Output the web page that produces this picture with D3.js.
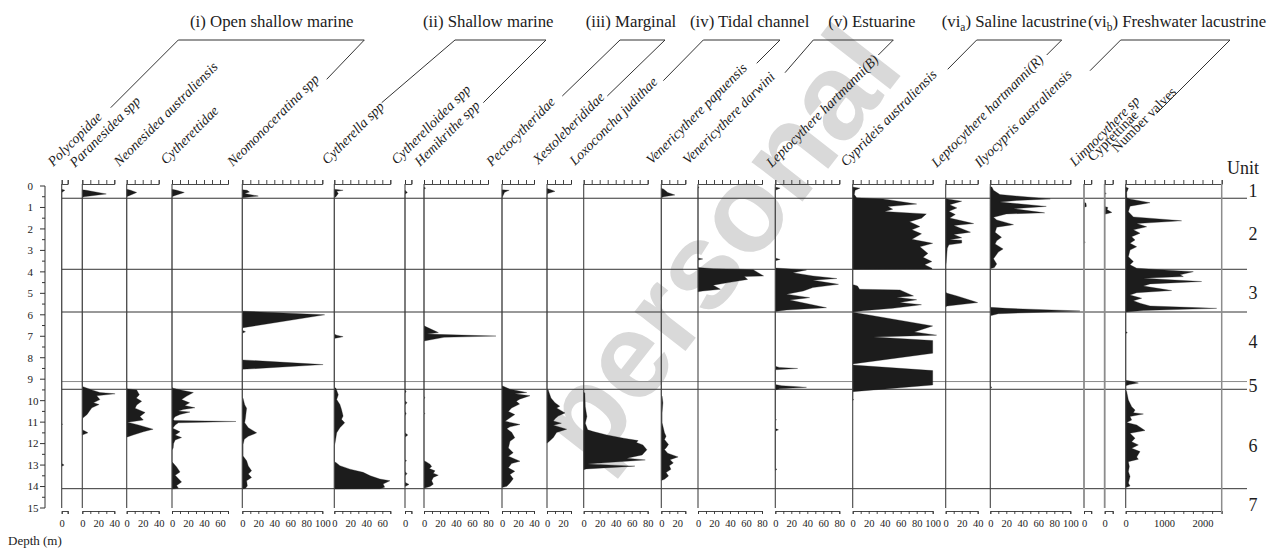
<!DOCTYPE html>
<html>
<head>
<meta charset="utf-8">
<script src="https://cdn.jsdelivr.net/npm/d3@7"></script>
<style>
  body { margin: 0; background: #fff; }
  svg { display: block; font-family: "Liberation Serif", "Times New Roman", serif; }
</style>
</head>
<body>
<svg id="chart" width="1288" height="551"></svg>
<script>
// ---- data: [depth (m), value] per taxon ----
const polycopidae = [[0.15,0],[0.2,4],[0.3,0],[11.05,0],[11.1,1],[11.15,0],[12.93,0],[13.0,3],[13.06,0]];
const paranesidea = [[0.18,0],[0.2,5],[0.37,30],[0.5,2],[0.55,0],[9.32,0],[9.35,1],[9.5,12],[9.62,22],[9.68,41],[9.77,18],[9.95,22],[10.1,14],[10.18,21],[10.33,12],[10.48,9],[10.64,6],[10.8,1],[10.85,0],[11.35,0],[11.45,5],[11.5,7],[11.6,0]];
const neonesidea = [[0.15,0],[0.2,5],[0.3,12.5],[0.45,3],[0.5,0],[9.45,0],[9.5,12.5],[9.72,15.8],[9.88,12],[10.03,18.7],[10.2,12.5],[10.35,10.5],[10.55,23],[10.74,16.6],[10.9,20.8],[10.97,8],[11.0,1],[11.13,14.6],[11.33,33],[11.45,20.8],[11.6,8],[11.7,0]];
const cytherettidae = [[0.15,0],[0.2,6],[0.3,15.4],[0.45,3],[0.5,0],[9.38,0],[9.42,1.5],[9.53,14],[9.62,26.7],[9.8,18],[9.95,12],[10.1,22],[10.23,16],[10.33,28.7],[10.41,14],[10.48,8],[10.53,22.5],[10.64,10],[10.75,3.7],[10.86,1.7],[10.92,3],[10.97,80],[11.03,8],[11.13,4],[11.28,1],[11.45,10],[11.6,4],[11.72,12],[11.83,4],[12.0,2],[12.2,1.5],[12.3,0],[12.85,0],[12.93,2],[13.09,5.8],[13.32,10],[13.48,4],[13.79,12],[13.95,5.8],[14.08,8],[14.12,0]];
const neomonoceratina = [[0.17,0],[0.2,6],[0.28,9],[0.35,3],[0.47,20],[0.55,0],[5.83,0],[6.0,103],[6.6,1],[6.65,0],[6.72,0],[6.79,4],[6.86,0],[8.1,0],[8.32,101],[8.54,0],[9.85,0],[9.9,1],[10.19,3],[10.35,5.4],[10.6,4.6],[10.8,4],[11.03,3],[11.26,7.5],[11.5,18],[11.66,7.5],[11.8,2.5],[12.04,1],[12.58,1],[12.8,5.4],[13.04,7.5],[13.27,11.6],[13.42,7.5],[13.58,11.6],[13.73,5.4],[13.97,6.3],[14.08,4],[14.12,0]];
const cytherella = [[0.15,0],[0.2,11],[0.25,3],[0.35,5],[0.5,2],[0.55,0],[6.9,0],[6.95,3],[7.02,11],[7.1,0],[9.38,0],[9.42,2],[9.72,5],[9.95,3],[10.18,7],[10.41,9],[10.72,11],[10.87,9],[11.03,13],[11.26,7],[11.5,3],[11.96,1],[12.1,0],[12.85,0],[12.88,2],[13.03,7],[13.19,19.6],[13.34,36],[13.5,45],[13.65,57],[13.73,69.6],[13.88,61],[14.03,63],[14.1,57],[14.12,0]];
const cytherelloidea = [[0.2,0],[0.3,3],[0.38,0],[9.5,0],[9.57,1.5],[9.65,0],[10.0,0],[10.1,2.5],[10.2,0],[10.5,0],[10.6,1.5],[10.7,0],[11.5,0],[11.6,3.5],[11.7,0],[12.75,0],[12.8,2],[12.85,0],[13.3,0],[13.4,2.5],[13.5,0],[13.8,0],[13.9,5],[14.0,0]];
const hemikrithe = [[0.05,0],[0.1,2],[0.15,0],[6.5,0],[6.55,2],[6.83,18],[6.9,4],[6.99,90],[7.05,25],[7.22,0],[9.8,0],[9.86,1],[9.92,0],[10.55,0],[10.6,1],[10.65,0],[12.8,0],[12.84,2.5],[12.96,7.5],[13.07,9.6],[13.16,6.7],[13.27,13.75],[13.38,11.6],[13.47,17.9],[13.58,11.6],[13.73,9.6],[13.89,11.6],[14.0,7.5],[14.08,0]];
const pectocytheridae = [[0.18,0],[0.2,9],[0.25,6],[0.3,3],[0.4,2],[0.55,0],[9.3,0],[9.32,1],[9.47,10],[9.62,31],[9.68,16],[9.77,35],[9.93,22],[10.03,18],[10.16,22],[10.34,12],[10.5,8],[10.65,16],[10.8,10],[10.96,4],[11.11,22.5],[11.22,10],[11.31,6],[11.47,12],[11.73,16],[11.89,10],[12.2,8],[12.43,14],[12.59,8],[12.82,22.5],[12.93,12],[13.13,8],[13.29,16],[13.44,10],[13.64,14],[13.83,10],[13.99,6],[14.05,0]];
const xestoleberididae = [[0.12,0],[0.15,3],[0.25,10],[0.35,1],[0.4,0],[9.45,0],[9.5,1.5],[9.88,5],[10.1,10],[10.26,16],[10.34,12],[10.57,22.5],[10.72,14],[10.84,10],[10.95,8],[11.05,18],[11.14,8],[11.33,24.6],[11.48,12],[11.71,8],[11.86,4],[11.98,0]];
const loxoconcha = [[9.6,0],[9.66,1.5],[10.28,2],[10.74,4],[11.05,2],[11.36,5],[11.44,12],[11.6,29],[11.75,50],[11.86,68],[11.95,66],[12.06,74],[12.29,79],[12.53,73],[12.68,54],[12.76,77],[12.88,30],[12.95,5],[13.05,64],[13.18,3],[13.22,0]];
const venPapuensis = [[0.1,0],[0.15,3],[0.3,8],[0.42,17],[0.5,3],[0.55,0],[9.75,0],[9.8,1],[10.1,2],[10.57,1],[11.03,1],[11.5,4],[11.66,6],[11.81,4],[12.04,9],[12.2,6],[12.28,4],[12.45,8],[12.62,21],[12.75,11],[12.9,15],[13.03,10],[13.2,12],[13.35,6],[13.51,9],[13.66,4],[13.72,0]];
const venDarwini = [[0.03,0],[0.06,1.5],[0.1,0],[3.35,0],[3.4,6],[3.45,0],[3.8,0],[3.85,19],[3.88,52],[3.9,69],[4.19,82],[4.22,58],[4.35,62],[4.5,38],[4.62,19],[4.81,28],[4.89,6],[4.93,0]];
const leptoB = [[0.05,0],[0.1,6],[0.2,0],[3.35,0],[3.42,6],[3.48,0],[3.82,0],[3.91,39],[4.04,22],[4.19,47],[4.31,77],[4.39,47],[4.58,79],[4.73,47],[4.89,35],[5.04,14],[5.2,43],[5.31,18],[5.67,64],[5.78,14],[5.85,0],[8.4,0],[8.45,5],[8.5,28],[8.56,0],[9.25,0],[9.3,8],[9.38,39],[9.45,5],[9.5,0],[10.85,0],[10.89,1.5],[10.93,0],[11.3,0],[11.36,4],[11.42,0],[13.15,0],[13.2,2],[13.25,0]];
const cyprideis = [[0.05,0],[0.1,9],[0.2,3],[0.4,2],[0.55,5],[0.6,38],[0.84,80],[0.96,44],[1.08,50],[1.19,40],[1.3,92],[1.5,86],[1.66,71],[1.89,84],[2.04,74],[2.23,86],[2.48,74],[2.67,100],[2.83,84],[3.14,94],[3.32,88],[3.52,99],[3.67,90],[3.83,99],[3.87,99],[3.88,0],[4.6,0],[4.61,2],[4.66,6],[4.81,8.5],[4.84,59],[5.12,76],[5.18,55],[5.3,80],[5.43,59],[5.53,86],[5.7,50],[5.81,13],[5.87,0],[5.88,0],[6.52,100],[6.8,77],[6.95,105],[7.03,26],[7.2,100],[7.79,100],[8.29,0],[8.34,0],[8.6,100],[9.27,100],[9.58,0],[9.9,0],[9.95,1],[10.0,0]];
const leptoR = [[0.58,0],[0.6,2],[0.71,20],[0.87,5],[1.02,14],[1.18,4],[1.33,12],[1.49,5],[1.75,35],[1.84,10],[2.15,31],[2.26,10],[2.41,20],[2.5,5],[2.53,20],[2.66,20],[2.74,4],[2.9,2],[3.6,0.5],[3.7,0],[4.95,0],[5.0,2],[5.12,14],[5.43,40],[5.59,2],[5.62,0]];
const ilyocypris = [[0.03,0],[0.05,2],[0.2,4],[0.4,12],[0.6,75],[0.67,33],[0.75,12],[0.95,70],[1.06,29],[1.25,68],[1.3,20],[1.46,4],[1.58,8],[1.8,29],[1.92,8],[2.16,6],[2.39,14],[2.55,8],[2.7,6],[2.93,16],[3.08,10],[3.39,4],[3.63,8],[3.8,5],[3.86,0],[5.65,0],[5.7,20],[5.82,112],[5.95,10],[6.05,0],[9.33,0],[9.38,2],[9.43,0]];
const limnocythere = [[0.75,0],[0.8,2.5],[0.95,3],[1.0,0],[2.55,0],[2.62,1.5],[2.68,0]];
const cyprettinae = [[0.3,0],[0.35,2],[0.4,0],[0.95,0],[1.0,4],[1.1,3],[1.23,9],[1.32,0]];
const numberValves = [[0.05,0],[0.1,70],[0.3,26],[0.55,30],[0.6,100],[0.78,634],[0.94,113],[1.2,70],[1.44,200],[1.62,1458],[1.75,286],[1.9,547],[2.04,200],[2.2,373],[2.36,156],[2.51,243],[2.67,113],[2.83,286],[2.98,113],[3.29,70],[3.52,200],[3.67,113],[3.83,286],[3.9,900],[3.99,1762],[4.14,1415],[4.22,1502],[4.3,460],[4.45,1979],[4.56,634],[4.66,460],[4.87,1198],[4.97,286],[5.08,113],[5.23,417],[5.34,200],[5.46,373],[5.59,634],[5.7,2370],[5.8,460],[5.87,0],[6.78,0],[6.83,43],[6.88,0],[9.05,0],[9.1,150],[9.18,330],[9.25,100],[9.3,0],[9.5,0],[9.58,26],[9.97,70],[10.28,156],[10.44,243],[10.56,200],[10.62,460],[10.74,113],[10.9,156],[11.02,26],[11.13,286],[11.39,503],[11.52,113],[11.75,243],[11.91,156],[12.06,330],[12.22,156],[12.37,373],[12.63,286],[12.73,330],[12.84,70],[13.07,95],[13.3,70],[13.53,113],[13.84,70],[13.97,113],[14.05,0]];

const series = [polycopidae, paranesidea, neonesidea, cytherettidae, neomonoceratina, cytherella,
  cytherelloidea, hemikrithe, pectocytheridae, xestoleberididae, loxoconcha, venPapuensis,
  venDarwini, leptoB, cyprideis, leptoR, ilyocypris, limnocythere, cyprettinae, numberValves];

const speciesNames = ["Polycopidae", "Paranesidea spp", "Neonesidea australiensis", "Cytherettidae",
  "Neomonoceratina spp", "Cytherella spp", "Cytherelloidea spp", "Hemikrithe spp", "Pectocytheridae",
  "Xestoleberididae", "Loxoconcha judithae", "Venericythere papuensis", "Venericythere darwini",
  "Leptocythere hartmanni(B)", "Cyprideis australiensis", "Leptocythere hartmanni(R)",
  "Ilyocypris australiensis", "Limnocythere sp", "Cyprettinae", "Number valves"];
const uprightNames = ["Cyprettinae", "Number valves"];

const axisMax = [7.5, 40, 40, 70, 100, 70, 8, 80, 40, 30, 80, 30, 80, 80, 100, 40, 100, 9, 10, 2500];
const tickStep = [7.5, 10, 10, 10, 10, 10, 8, 10, 10, 10, 10, 10, 10, 10, 10, 10, 10, 9, 10, 250];
const tickLabels = [[0], [0,20,40], [0,20,40], [0,20,40,60], [0,20,40,60,80,100], [0,20,40,60], [0],
  [0,20,40,60,80], [0,20,40], [0,20], [0,20,40,60,80], [0,20], [0,20,40,60,80], [0,20,40,60,80],
  [0,20,40,60,80,100], [0,20,40], [0,20,40,60,80,100], [0], [0], [0,1000,2000]];

const groupTitles = ["(i) Open shallow marine", "(ii) Shallow marine", "(iii) Marginal",
  "(iv) Tidal channel", "(v) Estuarine", "(vi|a) Saline lacustrine", "(vi|b) Freshwater lacustrine"];

const unitBoundaries = [0.57, 3.88, 5.87, 9.11, 9.47, 14.1];
const unitNames = ["1", "2", "3", "4", "5", "6", "7"];
const unitLabelDepth = [0.2, 2.2, 4.95, 7.25, 9.3, 12.1, 14.85];
const depthTicks = d3.range(0, 16, 1);

// ---- layout ----
const panelX = [61.7, 82.3, 126.7, 172, 242.3, 334.3, 405, 424, 502, 547, 583.7, 661.3, 698, 775.3,
  852.7, 945.7, 990.3, 1084, 1104.7, 1125.7];
const labelPos = [[53.3,167],[75,168],[119.3,167],[166,165],[232.7,167],[327.3,165],[396.7,165],[420,167],
  [491.7,167],[538.3,165],[575,166],[651.7,165],[688.3,165],[771.7,168],[846,167],[936.7,168],
  [980,168],[1075,167],[1093,162],[1117,153]];
const titleX = [190, 423, 585.7, 690, 828.3, 941.7, 1088];
const brackets = [
  [110.7,107.7, 178.3, 364.3, 326.7,79.3],
  [381.7,102.7, 455, 546, 483.3,102.7],
  [562.3,96, 620, 665, 607.3,96],
  [663.3,80.7, 703.3, 780, 756.7,63.3],
  [785,72.7, 813.3, 893.3, 878.3,55],
  [947.7,69.3, 976.7, 1061.7, 1046.7,55],
  [1090,70.7, 1120.7, 1230, 1156.7,113.3]
];
const topAxisY = 184, bottomAxisY = 511, barY = 40;
const ink = "#1c1c1c";

const svg = d3.select("#chart");
svg.append("rect").attr("width", 1288).attr("height", 551).attr("fill", "#fff");

const y = d3.scaleLinear().domain([0, 15]).range([186, 508]);

// watermark
svg.append("text")
  .attr("transform", "translate(724,250) rotate(-52)")
  .attr("y", 32)
  .attr("text-anchor", "middle")
  .style("font-family", "'Liberation Sans', Arial, sans-serif")
  .style("font-weight", "bold")
  .style("font-size", "122px")
  .attr("fill", "#d9d9d9")
  .text("personal");

// unit boundaries
svg.append("g").selectAll("line")
  .data(unitBoundaries)
  .join("line")
  .attr("x1", 62).attr("x2", 1247)
  .attr("y1", d => y(d)).attr("y2", d => y(d))
  .attr("stroke", (d, i) => i === 3 ? "#8a8a8a" : "#333")
  .attr("stroke-width", 1);

// panels
const xScales = panelX.map((x0, i) => {
  const k = i === 19 ? 96 / 2500 : 0.8;
  return d3.scaleLinear().domain([0, axisMax[i]]).range([x0, x0 + axisMax[i] * k]);
});

series.forEach((data, i) => {
  const x = xScales[i];
  const area = d3.area()
    .y(d => y(d[0]))
    .x0(x(0))
    .x1(d => x(d[1]));
  svg.append("path")
    .datum(data)
    .attr("d", area)
    .attr("fill", ink)
    .attr("stroke", ink)
    .attr("stroke-width", 0.3);
});

series.forEach((data, i) => {
  const x = xScales[i];
  const light = i === 17 || i === 18;
  svg.append("line")
    .attr("x1", x(0)).attr("x2", x(0))
    .attr("y1", topAxisY).attr("y2", y(15))
    .attr("stroke", light ? "#8c8c8c" : "#444")
    .attr("stroke-width", light ? 1.8 : 1.1);

  const ticks = d3.range(0, axisMax[i] + 1e-6, tickStep[i]);

  const top = svg.append("g")
    .attr("transform", `translate(0,${topAxisY})`)
    .call(d3.axisTop(x).tickValues(ticks).tickSizeInner(4).tickSizeOuter(4).tickFormat(""));
  top.selectAll("path, line").attr("stroke", "#333").attr("stroke-width", 0.9);

  const bottom = svg.append("g")
    .attr("transform", `translate(0,${bottomAxisY})`)
    .call(d3.axisBottom(x).tickValues(ticks).tickSizeInner(3).tickSizeOuter(3).tickPadding(6)
      .tickFormat(d => tickLabels[i].includes(d) ? d : ""));
  bottom.selectAll("path, line").attr("stroke", "#333").attr("stroke-width", 0.9);
  bottom.selectAll("text")
    .style("font-family", "'Liberation Serif', serif")
    .style("font-size", "10.5px")
    .attr("fill", ink);
});

// right border of number valves panel
svg.append("line")
  .attr("x1", xScales[19](2500)).attr("x2", xScales[19](2500))
  .attr("y1", topAxisY).attr("y2", bottomAxisY + 3)
  .attr("stroke", "#8c8c8c").attr("stroke-width", 1.5);

// species labels
svg.append("g").selectAll("text")
  .data(speciesNames)
  .join("text")
  .attr("x", (d, i) => labelPos[i][0])
  .attr("y", (d, i) => labelPos[i][1])
  .attr("transform", (d, i) => `rotate(-45,${labelPos[i][0]},${labelPos[i][1]})`)
  .style("font-size", "14px")
  .style("font-style", d => uprightNames.includes(d) ? "normal" : "italic")
  .attr("fill", ink)
  .text(d => d);

// group brackets
svg.append("g").selectAll("polyline")
  .data(brackets)
  .join("polyline")
  .attr("points", b => `${b[0]},${b[1]} ${b[2]},${barY} ${b[3]},${barY} ${b[4]},${b[5]}`)
  .attr("fill", "none")
  .attr("stroke", "#333")
  .attr("stroke-width", 1);

// group titles
groupTitles.forEach((t, i) => {
  const txt = svg.append("text")
    .attr("x", titleX[i]).attr("y", 26.5)
    .style("font-size", "16.8px")
    .attr("fill", ink);
  const parts = t.split("|");
  if (parts.length === 1) {
    txt.text(t);
  } else {
    txt.append("tspan").text(parts[0]);
    txt.append("tspan").attr("dy", 4).style("font-size", "11.5px").text(parts[1][0]);
    txt.append("tspan").attr("dy", -4).text(parts[1].slice(1));
  }
});

// depth axis
const depthG = svg.append("g");
depthG.append("line")
  .attr("x1", 45).attr("x2", 45).attr("y1", y(0)).attr("y2", y(15))
  .attr("stroke", "#333");
depthG.selectAll(".major")
  .data(depthTicks)
  .join("line")
  .attr("x1", 40).attr("x2", 45)
  .attr("y1", d => y(d)).attr("y2", d => y(d))
  .attr("stroke", "#333");
depthG.selectAll(".minor")
  .data(depthTicks.slice(0, -1).map(d => d + 0.5))
  .join("line")
  .attr("x1", 42).attr("x2", 45)
  .attr("y1", d => y(d)).attr("y2", d => y(d))
  .attr("stroke", "#333");
depthG.selectAll("text")
  .data(depthTicks)
  .join("text")
  .attr("x", 27.5)
  .attr("y", d => y(d))
  .attr("dy", "0.35em")
  .style("font-size", "11px")
  .attr("fill", ink)
  .text(d => d);

svg.append("text")
  .attr("x", 8).attr("y", 545)
  .style("font-size", "13px")
  .attr("fill", ink)
  .text("Depth (m)");

// unit column
svg.append("text")
  .attr("x", 1243).attr("y", 174)
  .attr("text-anchor", "middle")
  .style("font-size", "18px")
  .attr("fill", ink)
  .text("Unit");

svg.append("g").selectAll("text")
  .data(unitNames)
  .join("text")
  .attr("x", 1253)
  .attr("y", (d, i) => y(unitLabelDepth[i]))
  .attr("dy", "0.35em")
  .attr("text-anchor", "middle")
  .style("font-size", "18px")
  .attr("fill", ink)
  .text(d => d);
</script>
</body>
</html>
